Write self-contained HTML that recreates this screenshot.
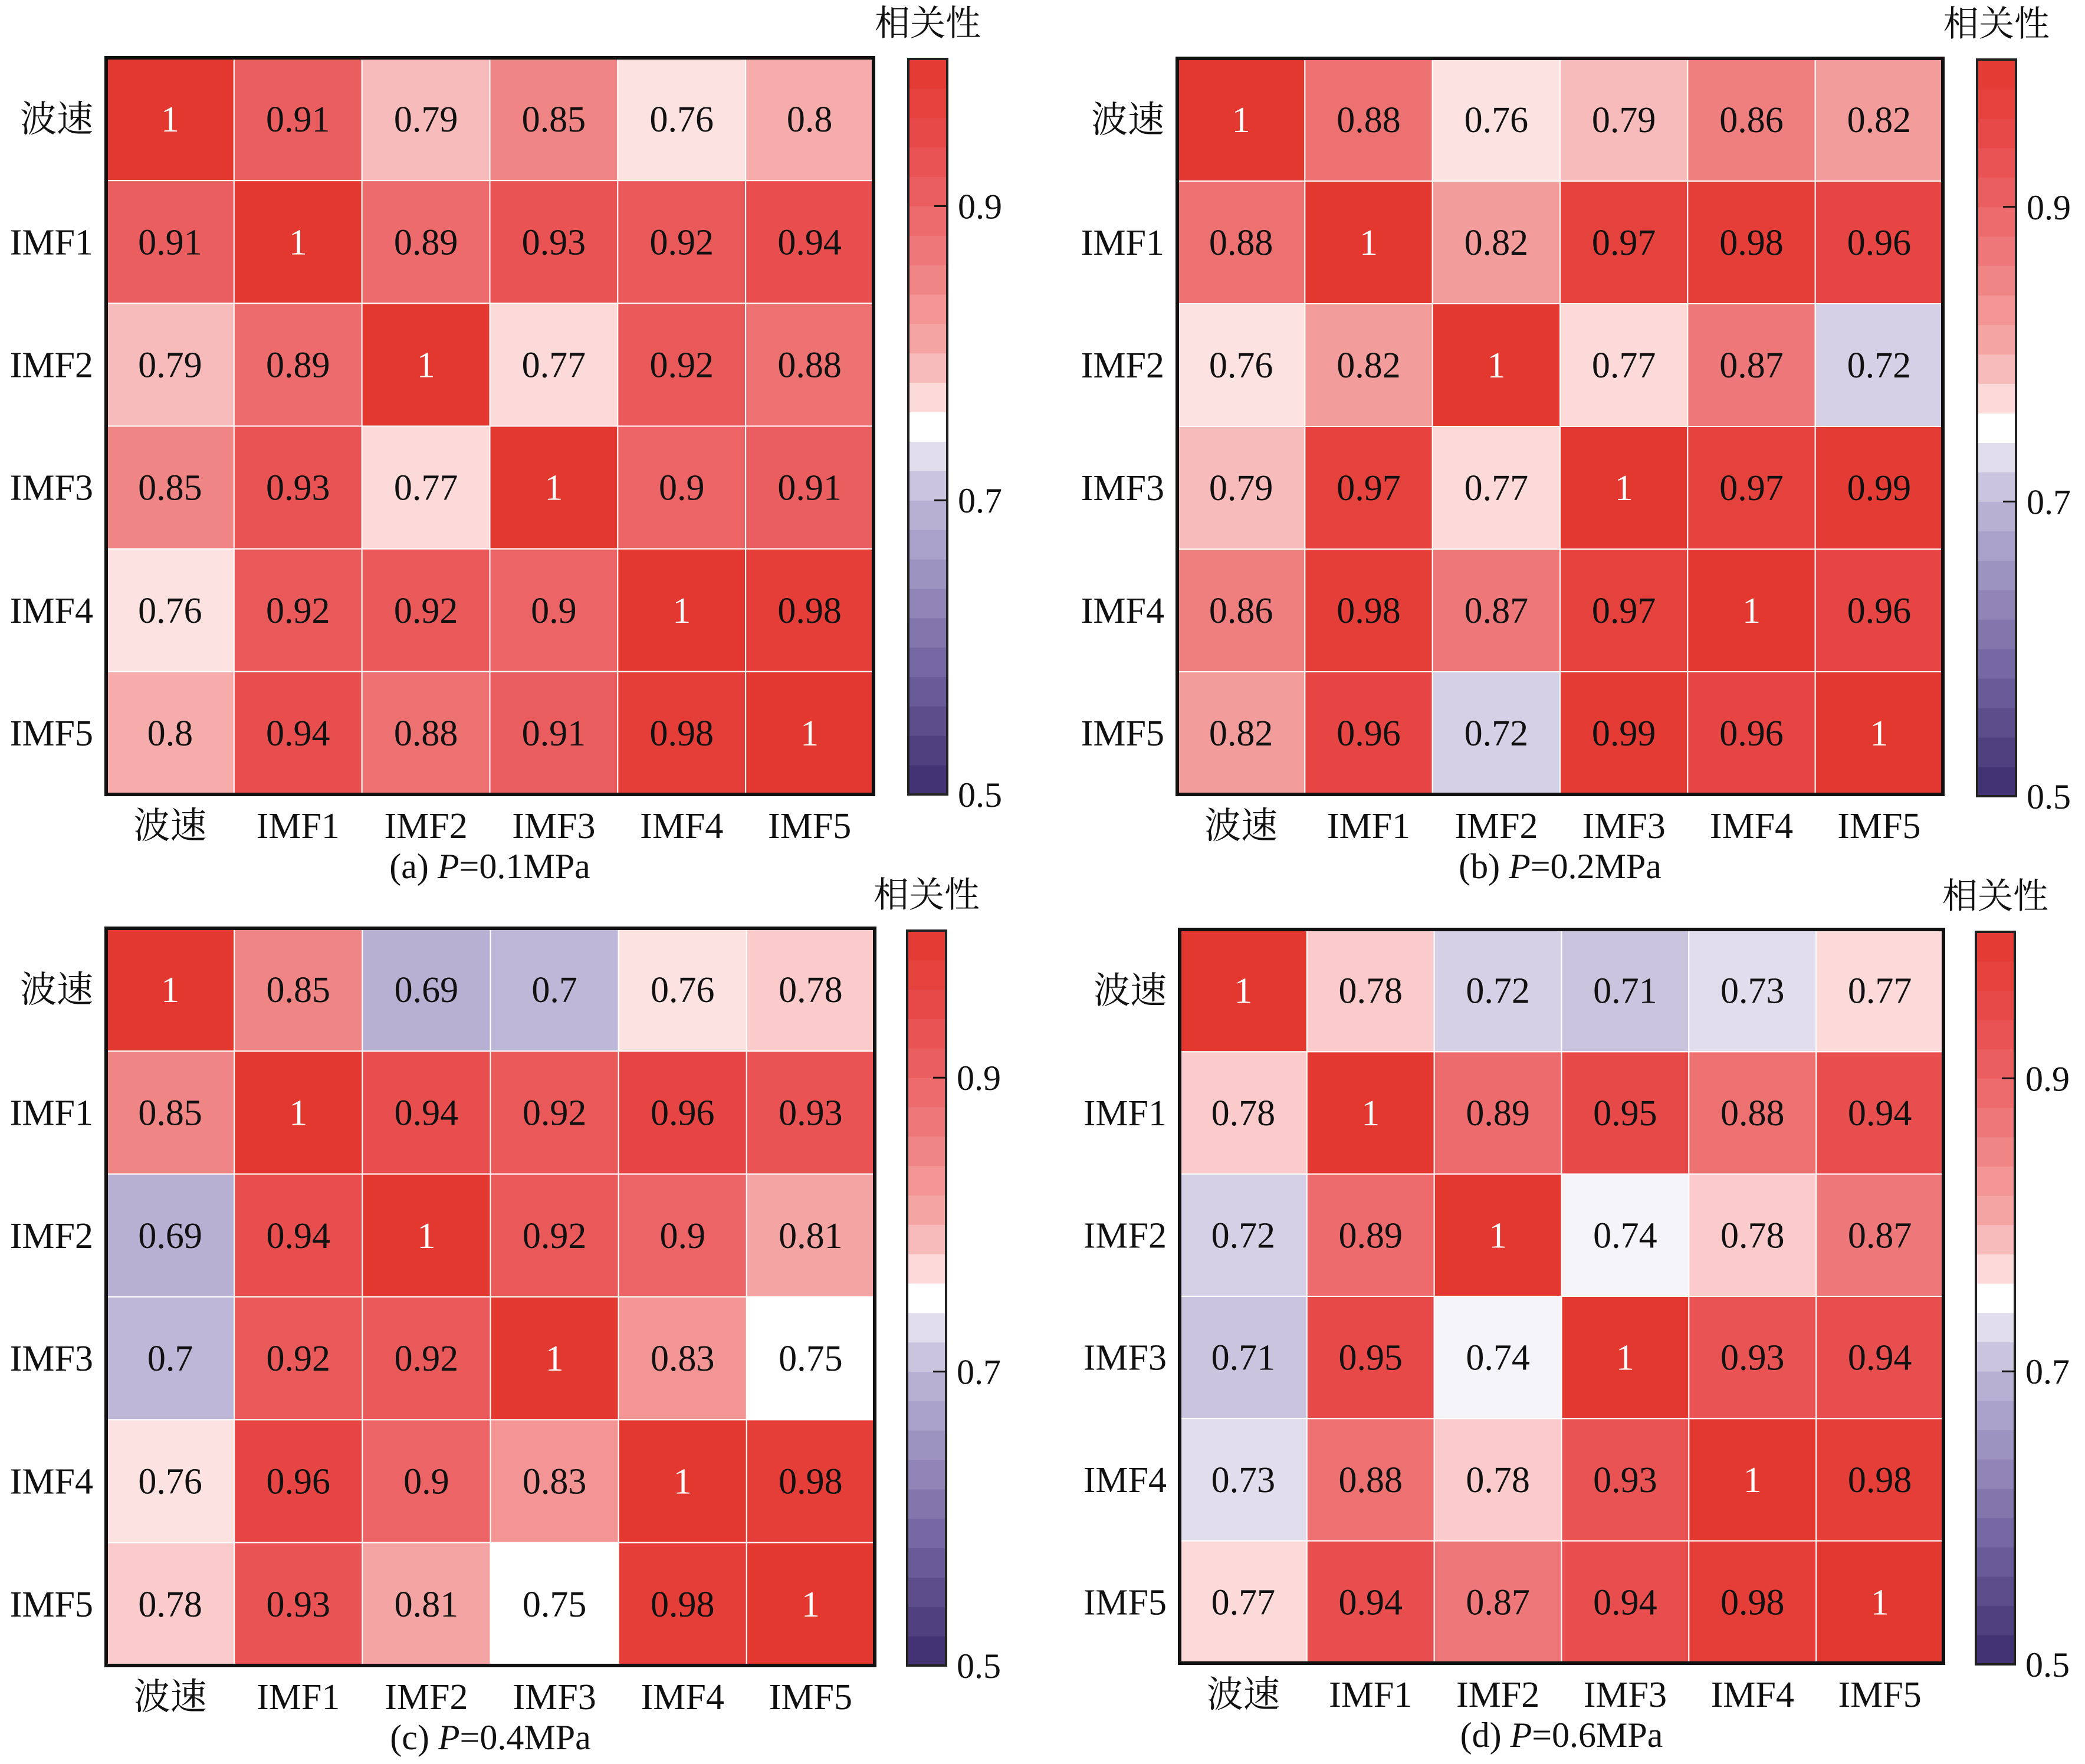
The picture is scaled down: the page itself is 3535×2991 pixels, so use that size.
<!DOCTYPE html>
<html><head><meta charset="utf-8">
<style>
html,body{margin:0;padding:0;background:#fff;}
svg{display:block;}
text{font-family:"Liberation Serif","Noto Serif CJK SC",serif;}
</style></head>
<body>
<svg id="fig" xmlns="http://www.w3.org/2000/svg" width="3535" height="2991" viewBox="0 0 3535 2991" font-family="Liberation Serif, Noto Serif CJK SC, serif">
</svg>
<script>
const labels = ["波速","IMF1","IMF2","IMF3","IMF4","IMF5"];
const matrixA = [
 [1,0.91,0.79,0.85,0.76,0.8],
 [0.91,1,0.89,0.93,0.92,0.94],
 [0.79,0.89,1,0.77,0.92,0.88],
 [0.85,0.93,0.77,1,0.9,0.91],
 [0.76,0.92,0.92,0.9,1,0.98],
 [0.8,0.94,0.88,0.91,0.98,1]];
const matrixB = [
 [1,0.88,0.76,0.79,0.86,0.82],
 [0.88,1,0.82,0.97,0.98,0.96],
 [0.76,0.82,1,0.77,0.87,0.72],
 [0.79,0.97,0.77,1,0.97,0.99],
 [0.86,0.98,0.87,0.97,1,0.96],
 [0.82,0.96,0.72,0.99,0.96,1]];
const matrixC = [
 [1,0.85,0.69,0.7,0.76,0.78],
 [0.85,1,0.94,0.92,0.96,0.93],
 [0.69,0.94,1,0.92,0.9,0.81],
 [0.7,0.92,0.92,1,0.83,0.75],
 [0.76,0.96,0.9,0.83,1,0.98],
 [0.78,0.93,0.81,0.75,0.98,1]];
const matrixD = [
 [1,0.78,0.72,0.71,0.73,0.77],
 [0.78,1,0.89,0.95,0.88,0.94],
 [0.72,0.89,1,0.74,0.78,0.87],
 [0.71,0.95,0.74,1,0.93,0.94],
 [0.73,0.88,0.78,0.93,1,0.98],
 [0.77,0.94,0.87,0.94,0.98,1]];
const captionsPrefix = ["(a) ","(b) ","(c) ","(d) "];
const captionsValue = ["=0.1MPa","=0.2MPa","=0.4MPa","=0.6MPa"];
const cbTicks = [0.5,0.7,0.9];
const vMin = 0.5, vMax = 1.0;

const NS="http://www.w3.org/2000/svg";
const svg=document.getElementById('fig');
const FF="Liberation Serif, Noto Serif CJK SC, serif";
function mk(tag,attrs,parent){const e=document.createElementNS(NS,tag);for(const k in attrs)e.setAttribute(k,attrs[k]);if(tag==='text')e.setAttribute('font-family',FF);(parent||svg).appendChild(e);return e;}

const stops=[[0.5,[61,44,110]],[0.6,[124,111,168]],[0.7,[190,183,216]],[0.73,[225,221,236]],[0.745,[255,255,255]],[0.752,[255,255,255]],[0.76,[253,226,226]],[0.77,[252,218,218]],[0.8,[245,172,171]],[0.85,[240,133,133]],[0.9,[236,100,102]],[0.95,[231,72,72]],[1.0,[227,56,47]]];
function color(v){
  v=Math.max(vMin,Math.min(vMax,v));
  for(let i=1;i<stops.length;i++){
    if(v<=stops[i][0]){const a=stops[i-1],b=stops[i];const t=(v-a[0])/(b[0]-a[0]||1);
      const c=a[1].map((x,j)=>Math.round(x+(b[1][j]-x)*t));return `rgb(${c[0]},${c[1]},${c[2]})`;}
  }
  return 'rgb(227,56,47)';
}

const panels=[
 {m:matrixA,x0:180,y0:98,x1:1481,y1:1347,cbx:1540,cby0:100,cby1:1347},
 {m:matrixB,x0:1996,y0:99,x1:3294,y1:1347,cbx:3352,cby0:101,cby1:1350},
 {m:matrixC,x0:180,y0:1574,x1:1483,y1:2824,cbx:1538,cby0:1578,cby1:2824},
 {m:matrixD,x0:2000,y0:1576,x1:3295,y1:2820,cbx:3350,cby0:1580,cby1:2822}];

panels.forEach((p,pi)=>{
  const g=mk('g',{});
  
  
  const n=labels.length, cw=(p.x1-p.x0)/n, ch=(p.y1-p.y0)/n;
  const xS=i=>p.x0+i*cw, yS=j=>p.y0+j*ch;
  p.m.forEach((row,r)=>row.forEach((v,c)=>{
    const rc=mk('rect',{x:xS(c),y:yS(r),width:cw,height:ch,fill:color(v),stroke:'#fff','stroke-width':2},g);
    
    
    const t=mk('text',{x:xS(c)+cw/2,y:yS(r)+ch/2+21,'text-anchor':'middle','font-size':62,fill:v>=0.995?'#fff':'#111'},g);
    t.textContent=String(v);
    
    
  }));
  const fr=mk('rect',{x:p.x0,y:p.y0,width:p.x1-p.x0,height:p.y1-p.y0,fill:'none',stroke:'#111','stroke-width':6},g);
  
  
  labels.forEach((l,i)=>{
    const ty=mk('text',{x:p.x0-22,y:yS(i)+ch/2+21,'text-anchor':'end','font-size':62,fill:'#111'},g);
    ty.textContent=l;
    
    
    const tx=mk('text',{x:xS(i)+cw/2,y:p.y1+74,'text-anchor':'middle','font-size':62,fill:'#111'},g);
    tx.textContent=l;
    
    
  });
  const cap=mk('text',{x:(p.x0+p.x1)/2,y:p.y1+142,'text-anchor':'middle','font-size':60,fill:'#111'},g);
  
  
  const s1=mk('tspan',{},cap);s1.textContent=captionsPrefix[pi];
  const s2=mk('tspan',{'font-style':'italic'},cap);s2.textContent='P';
  const s3=mk('tspan',{},cap);s3.textContent=captionsValue[pi];
  const cb=mk('g',{},g);
  
  
  const cbw=66, nb=25, bh=(p.cby1-p.cby0)/nb;
  const cY=v=>p.cby1-(v-vMin)/(vMax-vMin)*(p.cby1-p.cby0);
  for(let k=0;k<nb;k++){
    const v=vMin+(k+0.5)*(vMax-vMin)/nb;
    mk('rect',{x:p.cbx,y:p.cby1-(k+1)*bh,width:cbw,height:bh+0.5,fill:color(v)},cb);
  }
  mk('rect',{x:p.cbx,y:p.cby0,width:cbw,height:p.cby1-p.cby0,fill:'none',stroke:'#222','stroke-width':4},cb);
  cbTicks.forEach(tv=>{
    const y=cY(tv);
    if(tv>vMin) mk('line',{x1:p.cbx+cbw-22,x2:p.cbx+cbw,y1:y,y2:y,stroke:'#111','stroke-width':3},cb);
    const tt=mk('text',{x:p.cbx+cbw+18,y:y+21,'font-size':60,fill:'#111'},cb);
    tt.textContent=String(tv);
    
    
  });
  const ct=mk('text',{x:p.cbx+cbw/2,y:p.cby0-40,'text-anchor':'middle','font-size':60,fill:'#111'},cb);
  ct.textContent='相关性';
  
  
});
</script>
</body></html>
